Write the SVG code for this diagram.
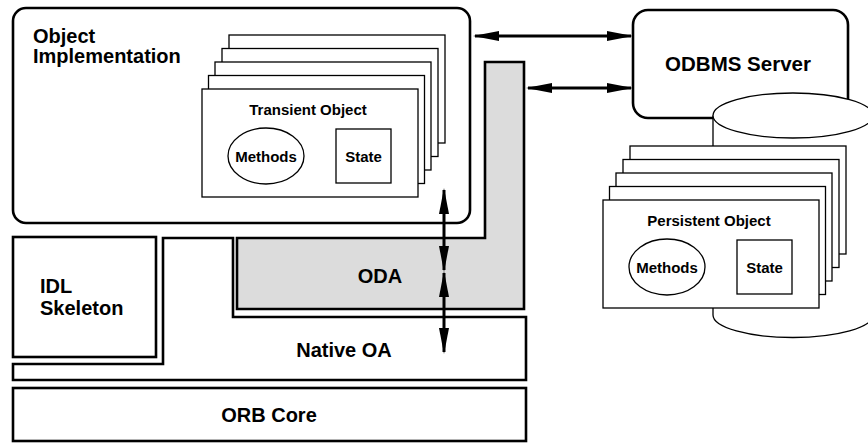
<svg xmlns="http://www.w3.org/2000/svg" width="868" height="444" viewBox="0 0 868 444">
<style>
text{font-family:"Liberation Sans",Arial,sans-serif;font-weight:bold;fill:#000}
.thick{fill:#fff;stroke:#000;stroke-width:2.6}
.thin{fill:#fff;stroke:#000;stroke-width:1.3}
.big{font-size:20px}
.mid{font-size:15px}
.c{text-anchor:middle}
.arr{stroke:#000;stroke-width:3;fill:none}
</style>
<defs>
<marker id="ah" viewBox="0 0 26 10" refX="24" refY="5" markerWidth="26" markerHeight="10" markerUnits="userSpaceOnUse" orient="auto-start-reverse">
<path d="M0,0 L26,5 L0,10 Z" fill="#000"/>
</marker>
<g id="stack">
<rect class="thin" x="27" y="-54" width="216" height="108"/>
<rect class="thin" x="20" y="-40.5" width="216" height="108"/>
<rect class="thin" x="13" y="-27" width="216" height="108"/>
<rect class="thin" x="6.5" y="-13.5" width="216" height="108"/>
<rect class="thin" x="0" y="0" width="216" height="108"/>
<ellipse class="thin" cx="64" cy="67" rx="38" ry="28"/>
<rect class="thin" x="134" y="40" width="55" height="54"/>
<text class="mid c" x="64" y="73">Methods</text>
<text class="mid c" x="161.5" y="73">State</text>
</g>
</defs>

<g id="orb-core">
<rect class="thick" x="13" y="388" width="513" height="53" stroke-width="3"/>
<text class="big c" x="269" y="422">ORB Core</text>
</g>

<g id="native-oa">
<polygon class="thick" points="163,238 233,238 233,317 526,317 526,380 13,380 13,364 163,364"/>
<text class="big c" x="344" y="357">Native OA</text>
</g>

<g id="idl-skeleton">
<rect class="thick" x="13" y="237" width="143" height="120"/>
<text class="big" x="40" y="293">IDL</text>
<text class="big" x="40" y="315">Skeleton</text>
</g>

<g id="oda">
<polygon class="thick" style="fill:#dcdcdc" points="237,238 485,238 485,62 524,62 524,309 237,309"/>
<text class="big c" x="380" y="283">ODA</text>
</g>

<g id="object-implementation">
<rect class="thick" x="13" y="8" width="457" height="215" rx="13"/>
<text class="big" x="33" y="43">Object</text>
<text class="big" x="33" y="63">Implementation</text>
</g>

<g id="transient-object">
<use href="#stack" x="202" y="89"/>
<text class="mid c" x="308" y="115">Transient Object</text>
</g>

<g id="odbms-server">
<rect class="thick" x="633" y="10" width="215" height="108" rx="15"/>
<text class="c" x="738" y="71" style="font-size:20.5px">ODBMS Server</text>
</g>

<g id="database">
<path class="thin" d="M713,115.5 L713,315 A80,22.5 0 0 0 873,315 L873,115.5"/>
<ellipse class="thin" cx="793" cy="115.5" rx="80" ry="22.5"/>
</g>

<g id="persistent-object">
<use href="#stack" x="603" y="200"/>
<text class="mid c" x="709" y="226">Persistent Object</text>
</g>

<g id="connectors">
<line class="arr" x1="475" y1="36" x2="631" y2="36" marker-start="url(#ah)" marker-end="url(#ah)"/>
<line class="arr" x1="528" y1="88" x2="631" y2="88" marker-start="url(#ah)" marker-end="url(#ah)"/>
<line class="arr" x1="444" y1="190" x2="444" y2="270" marker-start="url(#ah)" marker-end="url(#ah)"/>
<line class="arr" x1="444" y1="273" x2="444" y2="352" marker-start="url(#ah)" marker-end="url(#ah)"/>
</g>
</svg>
